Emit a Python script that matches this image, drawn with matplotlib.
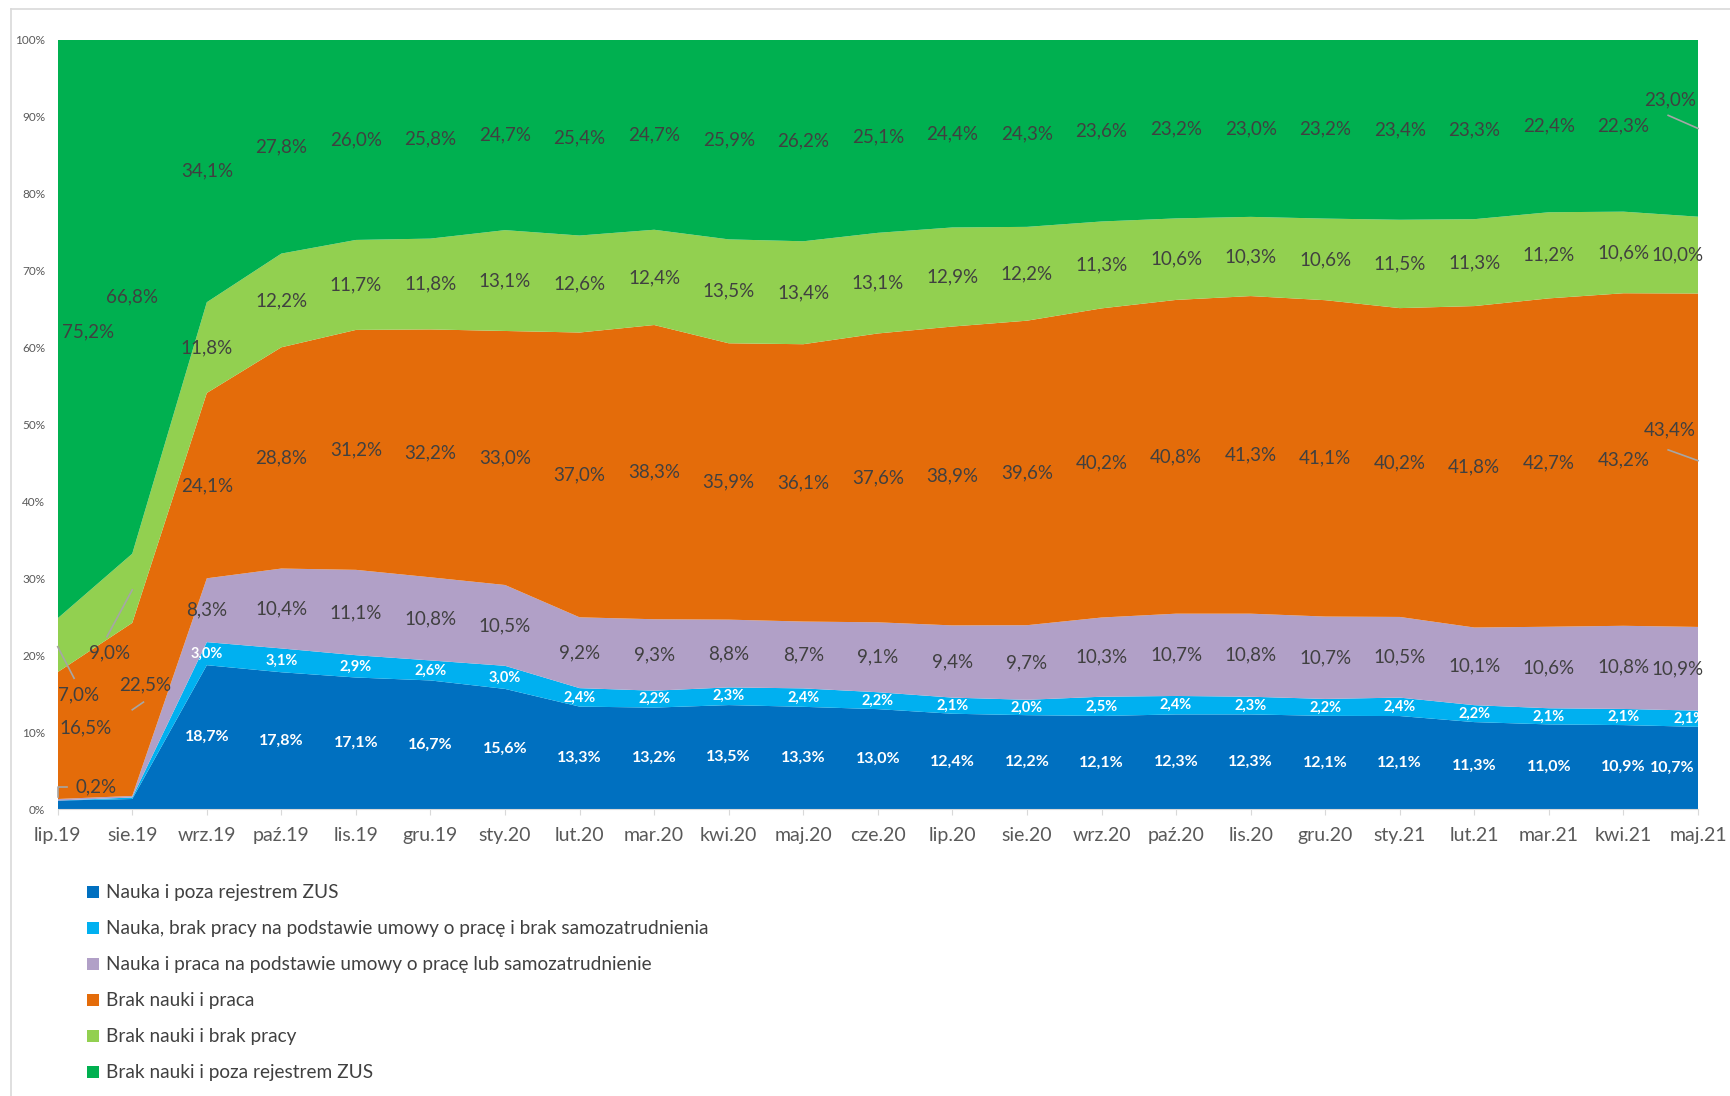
import numpy as np
import matplotlib.pyplot as plt
from matplotlib.lines import Line2D

plt.rcParams['font.family'] = ['Lato', 'DejaVu Sans']

months = ['lip.19', 'sie.19', 'wrz.19', 'paź.19', 'lis.19', 'gru.19', 'sty.20', 'lut.20',
          'mar.20', 'kwi.20', 'maj.20', 'cze.20', 'lip.20', 'sie.20', 'wrz.20', 'paź.20',
          'lis.20', 'gru.20', 'sty.21', 'lut.21', 'mar.21', 'kwi.21', 'maj.21']

series_names = ['Nauka i poza rejestrem ZUS',
                'Nauka, brak pracy na podstawie umowy o pracę i brak samozatrudnienia',
                'Nauka i praca na podstawie umowy o pracę lub samozatrudnienie',
                'Brak nauki i praca',
                'Brak nauki i brak pracy',
                'Brak nauki i poza rejestrem ZUS']

nauka_poza_zus = [1.1, 1.3, 18.7, 17.8, 17.1, 16.7, 15.6, 13.3, 13.2, 13.5, 13.3, 13.0,
                  12.4, 12.2, 12.1, 12.3, 12.3, 12.1, 12.1, 11.3, 11.0, 10.9, 10.7]
nauka_brak_pracy = [0.0, 0.2, 3.0, 3.1, 2.9, 2.6, 3.0, 2.4, 2.2, 2.3, 2.4, 2.2,
                    2.1, 2.0, 2.5, 2.4, 2.3, 2.2, 2.4, 2.2, 2.1, 2.1, 2.1]
nauka_praca = [0.2, 0.2, 8.3, 10.4, 11.1, 10.8, 10.5, 9.2, 9.3, 8.8, 8.7, 9.1,
               9.4, 9.7, 10.3, 10.7, 10.8, 10.7, 10.5, 10.1, 10.6, 10.8, 10.9]
brak_nauki_praca = [16.5, 22.5, 24.1, 28.8, 31.2, 32.2, 33.0, 37.0, 38.3, 35.9, 36.1, 37.6,
                    38.9, 39.6, 40.2, 40.8, 41.3, 41.1, 40.2, 41.8, 42.7, 43.2, 43.4]
brak_nauki_brak_pracy = [7.0, 9.0, 11.8, 12.2, 11.7, 11.8, 13.1, 12.6, 12.4, 13.5, 13.4, 13.1,
                         12.9, 12.2, 11.3, 10.6, 10.3, 10.6, 11.5, 11.3, 11.2, 10.6, 10.0]
brak_nauki_poza_zus = [75.2, 66.8, 34.1, 27.8, 26.0, 25.8, 24.7, 25.4, 24.7, 25.9, 26.2, 25.1,
                       24.4, 24.3, 23.6, 23.2, 23.0, 23.2, 23.4, 23.3, 22.4, 22.3, 23.0]

colors = ['#0070C0', '#00B0F0', '#B1A0C7', '#E46C0A', '#92D050', '#00B050']
text_colors = ['white', 'white', '#404040', '#404040', '#404040', '#404040']

vals = np.array([nauka_poza_zus, nauka_brak_pracy, nauka_praca,
                 brak_nauki_praca, brak_nauki_brak_pracy, brak_nauki_poza_zus])
shares = vals / vals.sum(axis=0) * 100
x = np.arange(len(months))

fig = plt.figure(figsize=(17.3, 10.96), dpi=100)
ax = fig.add_axes([57.7 / 1730, 1 - 809 / 1096, (1698 - 57.7) / 1730, (809 - 40) / 1096])

polys = ax.stackplot(x, shares, colors=colors, labels=series_names, linewidth=0)

ax.set_xlim(0, len(months) - 1)
ax.set_ylim(0, 100)
ax.set_xticks(x)
ax.set_xticklabels(months, fontsize=14, color='#595959')
ax.set_yticks(np.arange(0, 101, 10))
ax.set_yticklabels([f'{t}%' for t in range(0, 101, 10)], fontsize=8.5, color='#595959')
ax.tick_params(axis='y', length=0, pad=9)
ax.tick_params(axis='x', length=4, color='#D9D9D9', pad=9)
for s in ['top', 'right', 'left']:
    ax.spines[s].set_visible(False)
ax.spines['bottom'].set_color('#D9D9D9')

# labels in the middle of each band
cum = np.cumsum(shares, axis=0)
mids = cum - shares / 2

# (series, point) -> (x, y, ha, leader line)
special = {
    (0, 0): None, (1, 0): None, (2, 0): (0.24, 2.9, 'left', [(0.12, 2.9), (0.0, 2.9), (0.0, 1.6)]),
    (0, 1): None, (1, 1): None, (2, 1): None,
    (3, 0): (0.02, 10.5, 'left', None),
    (4, 0): (0.0, 14.8, 'left', [(0.22, 17.0), (0.0, 21.1)]),
    (5, 0): (0.06, 62.0, 'left', None),
    (4, 1): (0.69, 20.3, 'center', [(0.66, 22.4), (1.0, 28.5)]),
    (3, 1): (1.17, 16.1, 'center', [(1.0, 12.9), (1.15, 13.9)]),
    (5, 22): (21.62, 92.2, 'center', [(21.6, 90.2), (22.0, 88.5)]),
    (4, 22): (22.07, None, 'right', None),
    (3, 22): (21.62, 49.3, 'center', [(21.6, 46.7), (22.0, 45.3)]),
    (2, 22): (22.07, None, 'right', None),
    (1, 22): (21.67, None, 'left', None),
    (0, 22): (21.96, None, 'right', None),
}

for si in range(len(series_names)):
    for pi in range(len(months)):
        label = f'{vals[si, pi]:.1f}'.replace('.', ',') + '%'
        xx, yy, ha = pi, mids[si, pi], 'center'
        if (si, pi) in special:
            spec = special[(si, pi)]
            if spec is None:
                continue
            xx, y_s, ha, leader = spec
            if y_s is not None:
                yy = y_s
            if leader is not None:
                lx, ly = zip(*leader)
                ax.plot(lx, ly, color='#A6A6A6', lw=1.2, clip_on=False, zorder=3)
        if si == 0:
            fs, fw = 11.5, 'bold'
        elif si == 1:
            fs, fw = 10.5, 'bold'
        else:
            fs, fw = 13.5, 'normal'
        ax.text(xx, yy, label, ha=ha, va='center', fontsize=fs, fontweight=fw,
                color=text_colors[si], zorder=4, clip_on=False)

leg = ax.legend(loc='upper left', bbox_to_anchor=(0.0134, -0.088), frameon=False,
                fontsize=13.7, labelcolor='#404040', handlelength=0.6, handleheight=0.6,
                handletextpad=0.4, labelspacing=1.0, borderaxespad=0)

# outer chart border
fig.add_artist(Line2D([11 / 1730, 11 / 1730], [0, 1 - 9 / 1096], color='#D9D9D9', lw=1.2))
fig.add_artist(Line2D([11 / 1730, 1], [1 - 9 / 1096, 1 - 9 / 1096], color='#D9D9D9', lw=1.2))

plt.savefig('out.png', dpi=100)
